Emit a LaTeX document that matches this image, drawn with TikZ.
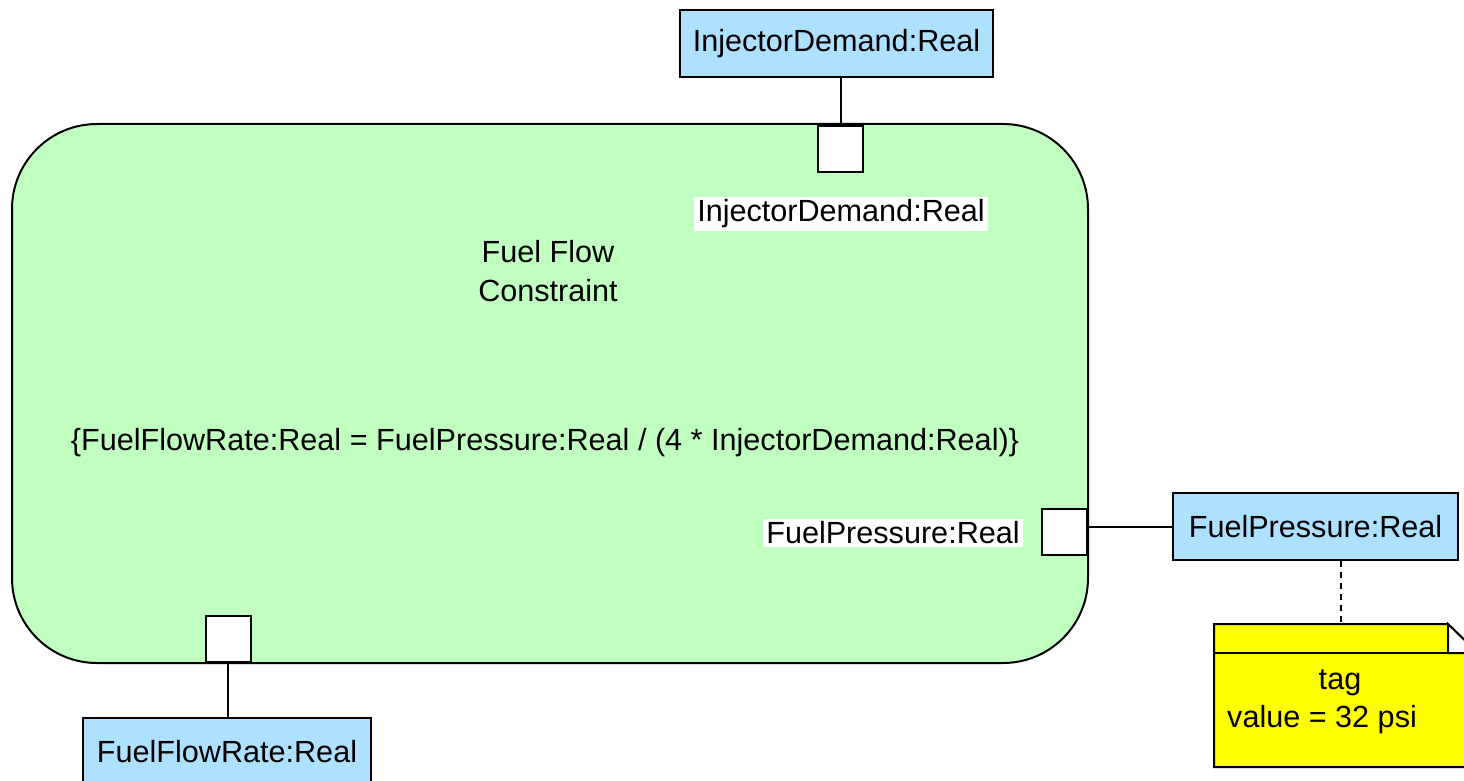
\documentclass[tikz,border=0pt]{standalone}
\usepackage{fontspec}
\setmainfont{Liberation Sans}
\definecolor{blockgreen}{HTML}{C0FFC0}
\definecolor{partblue}{HTML}{AEE0FF}
\definecolor{noteyellow}{HTML}{FFFF00}
\begin{document}
\begin{tikzpicture}[x=1pt,y=-1pt,
  txt/.style={font=\fontsize{30.6}{39}\selectfont, inner sep=2pt},
  part/.style={txt, draw=black, line width=2pt, fill=partblue, minimum height=67pt, anchor=north west, inner sep=0pt},
  port/.style={draw=black, line width=2pt, fill=white, minimum width=45pt, minimum height=46pt, inner sep=0pt},
  lbl/.style={txt, fill=white, inner sep=3pt},
  wire/.style={draw=black, line width=2pt}]
\useasboundingbox (0,0) rectangle (1464,781);
\clip (0,0) rectangle (1464,781);

% constraint block
\node[draw=black, line width=2pt, fill=blockgreen, rounded corners=85pt,
      minimum width=1076pt, minimum height=539pt, inner sep=0pt] (blk) at (550,393.5) {};
\node[txt, align=center] (title) at (548,271) {Fuel Flow\\Constraint};
\node[txt] (expr) at (545,443) {\{FuelFlowRate:Real = FuelPressure:Real / (4 * InjectorDemand:Real)\}};

% ports on the block border
\node[port] (pinj) at (840.5,149) {};
\node[port] (pfp) at (1064.5,532) {};
\node[port] (pffr) at (228,638.5) {};

% port labels
\node[lbl] (linj) at (841,214) {InjectorDemand:Real};
\node[lbl] (lfp) at (893,533) {FuelPressure:Real};

% parts
\node[part, minimum width=313pt] (inj) at (679,9) {InjectorDemand:Real};
\node[part, minimum width=285pt] (fp) at (1172,492) {FuelPressure:Real};
\node[part, minimum width=288pt] (ffr) at (82,717) {FuelFlowRate:Real};

% connectors
\draw[wire] (pinj.north) -- (pinj.north |- inj.south);
\draw[wire] (fp.west) -- (fp.west -| pfp.east);
\draw[wire] (pffr.south) -- (pffr.south |- ffr.north);

% tag note
\coordinate (nt) at (1341,624);
\draw[line width=2pt, fill=noteyellow]
  (1214,624) -- (1448,624) -- (1478,654) -- (1478,767) -- (1214,767) -- cycle;
\draw[line width=2pt] (1214,653) -- (1478,653);
\draw[line width=2pt, fill=white] (1448,624) -- (1448,653) -- (1478,653) -- cycle;
\node[txt] (ntag) at (1340,683) {tag};
\node[txt, anchor=west] (nval) at (1225,720) {value = 32 psi};
\draw[line width=2pt, dashed, dash pattern=on 6pt off 5pt] (fp.south -| nt) -- (nt);
\end{tikzpicture}
\end{document}
